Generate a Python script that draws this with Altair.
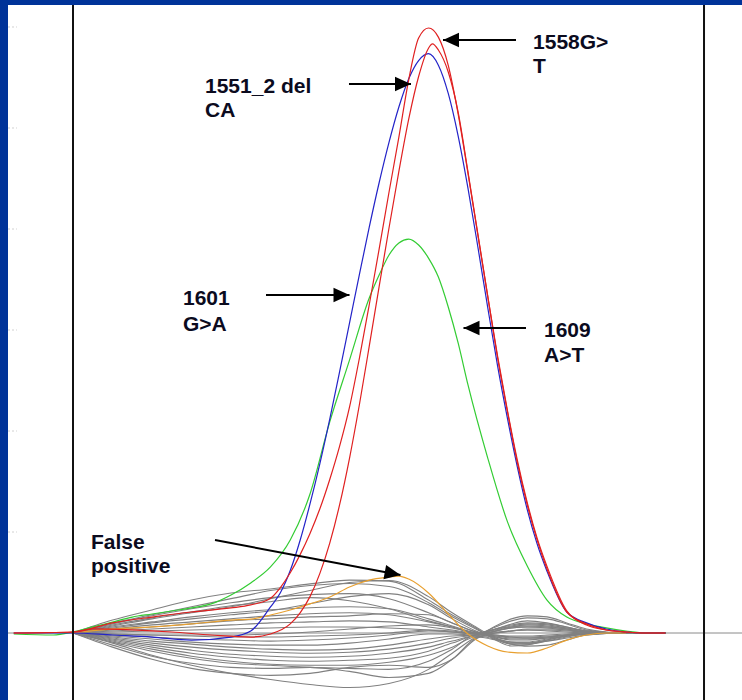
import altair as alt
import pandas as pd

# ---------------- data (temperature in degC, normalised difference signal) ----------------
T_GRAY = [76, 77, 78, 79, 80, 81, 82, 83, 84, 85, 85.6, 86.2, 86.7, 87.1, 87.5, 88, 88.5, 89, 90, 91]
GRAY_CURVES = [
    [0, 0.64, 1.14, 1.63, 1.98, 2.18, 2.43, 2.62, 2.57, 1.63, 0.89, 0.25, -0.35, -0.64, -0.59, -0.35, -0.15, -0.05, 0, 0],
    [0, 0.50, 0.90, 1.30, 1.70, 2.10, 2.35, 2.45, 2.30, 1.50, 0.80, 0.20, -0.30, -0.55, -0.55, -0.40, -0.20, -0.05, 0, 0],
    [0, 0.35, 0.70, 1.00, 1.30, 1.70, 2.10, 2.50, 2.60, 1.80, 1.00, 0.30, -0.25, -0.50, -0.50, -0.35, -0.15, -0.05, 0, 0],
    [0, 0.45, 0.85, 1.20, 1.50, 1.75, 1.90, 1.95, 1.70, 1.00, 0.50, 0.05, -0.20, -0.35, -0.35, -0.25, -0.10, 0, 0, 0],
    [0, 0.30, 0.55, 0.80, 1.00, 1.15, 1.25, 1.30, 1.20, 0.70, 0.35, 0, -0.15, -0.25, -0.25, -0.20, -0.10, 0, 0, 0],
    [0, 0.20, 0.40, 0.55, 0.70, 0.85, 0.95, 1.00, 0.90, 0.55, 0.30, 0, 0.20, 0.45, 0.60, 0.50, 0.30, 0.10, 0, 0],
    [0, 0.10, 0.20, 0.30, 0.40, 0.50, 0.55, 0.60, 0.55, 0.30, 0.15, 0, 0.15, 0.35, 0.45, 0.40, 0.25, 0.10, 0, 0],
    [0, 0.05, 0.10, 0.15, 0.20, 0.25, 0.30, 0.30, 0.25, 0.15, 0.05, -0.05, 0.10, 0.25, 0.30, 0.30, 0.20, 0.05, 0, 0],
    [0, -0.05, -0.10, -0.15, -0.20, -0.20, -0.15, -0.10, 0, 0.15, 0.10, -0.05, 0.20, 0.40, 0.50, 0.45, 0.30, 0.10, 0, 0],
    [0, -0.10, -0.20, -0.30, -0.35, -0.40, -0.35, -0.25, -0.10, 0.10, 0.05, -0.05, 0.30, 0.60, 0.75, 0.70, 0.45, 0.15, 0, 0],
    [0, -0.15, -0.30, -0.45, -0.55, -0.60, -0.60, -0.50, -0.30, -0.05, -0.05, -0.10, 0.35, 0.70, 0.85, 0.80, 0.50, 0.20, 0, 0],
    [0, -0.20, -0.40, -0.55, -0.70, -0.80, -0.85, -0.80, -0.60, -0.30, -0.15, -0.10, 0.10, 0.30, 0.40, 0.35, 0.25, 0.10, 0, 0],
    [0, -0.25, -0.50, -0.70, -0.85, -0.95, -1.00, -0.95, -0.80, -0.50, -0.25, -0.10, 0, 0.10, 0.20, 0.20, 0.15, 0.05, 0, 0],
    [0, -0.30, -0.60, -0.85, -1.05, -1.15, -1.20, -1.15, -1.00, -0.70, -0.40, -0.15, -0.15, -0.20, -0.25, -0.20, -0.10, 0, 0, 0],
    [0, -0.35, -0.70, -1.00, -1.20, -1.35, -1.40, -1.35, -1.25, -0.90, -0.50, -0.15, -0.30, -0.45, -0.50, -0.40, -0.25, -0.10, 0, 0],
    [0, -0.40, -0.80, -1.15, -1.40, -1.55, -1.60, -1.60, -1.45, -1.10, -0.70, -0.20, -0.35, -0.55, -0.65, -0.60, -0.35, -0.10, 0, 0],
    [0, -0.50, -1.10, -1.60, -2.00, -2.30, -2.55, -2.70, -2.50, -1.80, -1.00, -0.20, 0.20, 0.30, 0.35, 0.30, 0.20, 0.05, 0, 0],
    [0, -0.70, -1.30, -1.75, -2.00, -2.10, -2.00, -1.70, -1.60, -1.70, -1.30, -0.30, 0.10, 0.25, 0.30, 0.25, 0.15, 0.05, 0, 0],
    [0, -0.60, -1.15, -1.50, -1.70, -1.75, -1.70, -1.90, -2.20, -2.00, -1.30, -0.25, 0, 0.10, 0.15, 0.10, 0.05, 0, 0, 0],
    [0, -0.45, -0.90, -1.25, -1.50, -1.60, -1.70, -1.75, -1.80, -1.40, -0.80, -0.10, -0.20, -0.30, -0.30, -0.25, -0.15, -0.05, 0, 0],
    [0, 0.25, 0.50, 0.70, 0.90, 1.10, 1.45, 1.80, 1.95, 1.40, 0.70, 0.10, -0.25, -0.45, -0.45, -0.30, -0.15, 0, 0, 0],
    [0, 0.15, 0.30, 0.45, 0.60, 0.70, 0.80, 0.85, 0.95, 0.90, 0.50, 0.05, -0.10, -0.15, -0.15, -0.10, -0.05, 0, 0, 0],
    [0, 0.40, 0.75, 1.05, 1.35, 1.55, 1.75, 1.60, 1.20, 0.60, 0.30, 0, 0.05, 0.10, 0.15, 0.15, 0.10, 0.05, 0, 0],
    [0, -0.05, -0.10, -0.10, -0.10, -0.05, 0.05, 0.20, 0.35, 0.40, 0.25, 0, -0.10, -0.20, -0.20, -0.15, -0.10, 0, 0, 0],
]

T_ORANGE = [76, 77, 78, 79, 80, 80.5, 81, 81.5, 82, 82.5, 83, 83.5, 84, 84.25, 84.5, 85, 85.5, 86, 86.5, 87, 87.5, 88, 88.5, 89, 89.5, 90]
V_ORANGE = [0, 0.20, 0.30, 0.45, 0.64, 0.69, 0.89, 1.14, 1.44, 1.78, 2.28, 2.62, 2.77, 2.82, 2.67, 1.98, 0.94, -0.05, -0.64, -0.94, -0.99, -0.74, -0.35, -0.10, 0, 0]

T_GREEN = [74.5, 75.5, 76, 76.5, 77, 77.5, 78, 78.5, 79, 79.5, 80, 80.5, 81, 81.5, 82, 82.5, 83, 83.5, 83.75, 84, 84.25, 84.5, 84.75, 85, 85.25, 85.5, 85.75, 86, 86.5, 87, 87.5, 88, 88.5, 89, 89.5, 90, 90.5, 91]
V_GREEN = [-0.05, -0.10, 0.05, 0.30, 0.54, 0.79, 0.94, 1.09, 1.24, 1.44, 1.88, 2.48, 3.27, 4.60, 6.88, 10.45, 13.51, 16.58, 17.72, 18.71, 19.31, 19.50, 19.21, 18.56, 17.62, 16.14, 14.36, 12.28, 8.66, 5.50, 3.32, 1.63, 0.79, 0.45, 0.25, 0.10, 0, 0]

T_BLUE = [74.5, 76, 77, 78, 79, 80, 80.5, 81, 81.25, 81.5, 81.75, 82, 82.25, 82.5, 82.75, 83, 83.25, 83.5, 83.75, 84, 84.25, 84.5, 84.75, 85, 85.25, 85.5, 85.75, 86, 86.25, 86.5, 86.75, 87, 87.25, 87.5, 87.75, 88, 88.5, 89, 89.5, 90, 90.5, 91]
V_BLUE = [0, 0, -0.10, -0.20, -0.35, -0.20, 0.10, 1.29, 1.99, 3.09, 4.59, 6.39, 8.39, 10.59, 12.94, 15.34, 17.74, 20.09, 22.29, 24.29, 26.04, 27.44, 28.34, 28.68, 28.11, 26.71, 24.61, 22.01, 19.11, 16.11, 13.21, 10.61, 8.21, 6.11, 4.41, 3.06, 1.04, 0.50, 0.20, 0.05, 0, 0]

T_RED_B = [74.5, 76, 76.5, 77.5, 78.5, 79.5, 80.5, 81, 81.5, 81.75, 82, 82.25, 82.5, 82.75, 83, 83.25, 83.5, 83.75, 84, 84.25, 84.5, 84.75, 85, 85.1, 85.25, 85.5, 85.75, 86, 86.25, 86.5, 86.75, 87, 87.25, 87.5, 87.75, 88, 88.5, 89, 89.5, 90, 90.5, 91]
V_RED_B = [0, 0.05, 0.20, 0.15, 0.05, -0.10, -0.20, -0.05, 0.45, 1.00, 1.80, 2.95, 4.45, 6.35, 8.65, 11.30, 14.20, 17.15, 20.05, 22.85, 25.45, 27.55, 28.95, 29.16, 28.86, 27.77, 25.79, 22.82, 19.75, 16.68, 13.61, 10.94, 8.42, 6.34, 4.60, 3.17, 1.04, 0.45, 0.15, 0.05, 0, 0]

T_RED_A = [74.5, 76, 77, 78, 79, 80, 80.5, 81, 81.25, 81.5, 81.75, 82, 82.25, 82.5, 82.75, 83, 83.25, 83.5, 83.75, 84, 84.25, 84.5, 84.75, 85, 85.25, 85.5, 85.75, 86, 86.25, 86.5, 86.75, 87, 87.25, 87.5, 87.75, 88, 88.5, 89, 89.5, 90, 90.5, 91]
V_RED_A = [0, 0.05, 0.50, 0.79, 1.04, 1.24, 1.39, 1.72, 2.25, 2.98, 3.88, 4.93, 6.15, 7.60, 9.25, 11.18, 13.60, 16.25, 19.00, 21.82, 24.55, 27.40, 29.45, 29.95, 29.50, 28.10, 25.70, 22.75, 19.70, 16.65, 13.70, 11.00, 8.55, 6.45, 4.70, 3.30, 1.10, 0.40, 0.15, 0.05, 0, 0]

# annotations
LABEL_TEXT = ["1558G>", "T", "1551_2 del", "CA", "1601", "G>A", "1609", "A>T", "False", "positive"]
LABEL_T = [87.646, 87.646, 79.342, 79.342, 78.785, 78.785, 87.924, 87.924, 76.456, 76.456]
LABEL_V = [28.91, 27.72, 26.73, 25.54, 16.24, 14.95, 14.65, 13.42, 4.16, 2.97]

ARROW_T_FROM = [87.215, 82.987, 80.886, 87.468, 79.595]
ARROW_V_FROM = [29.36, 27.18, 16.73, 15.10, 4.60]
ARROW_T_TO = [85.367, 84.557, 83.000, 85.886, 84.291]
ARROW_V_TO = [29.36, 27.18, 16.73, 15.10, 2.87]
ARROW_ANGLE = [180, 0, 0, 180, 10.7]

FRAME_T = [76.0, 91.975]
TICK_V = [5, 10, 15, 20, 25, 30]

X_DOMAIN = [74.3544, 92.9367]
Y_DOMAIN = [-3.3168, 31.0891]

# ---------------- build ----------------
xs = alt.Scale(domain=X_DOMAIN, nice=False, zero=False)
ys = alt.Scale(domain=Y_DOMAIN, nice=False, zero=False)
X = lambda f: alt.X(f, type="quantitative", scale=xs, axis=None)
Y = lambda f: alt.Y(f, type="quantitative", scale=ys, axis=None)

gray_rows = []
for i, curve in enumerate(GRAY_CURVES):
    for t, v in zip(T_GRAY, curve):
        gray_rows.append({"T": t, "v": v, "s": f"g{i}"})
gray_df = pd.DataFrame(gray_rows)


def series(ts, vs):
    return pd.DataFrame({"T": ts, "v": vs})


gray = alt.Chart(gray_df).mark_line(color="#808080", strokeWidth=1.1, interpolate="monotone").encode(
    x=X("T"), y=Y("v"), detail="s:N")


def colored(ts, vs, color):
    return alt.Chart(series(ts, vs)).mark_line(color=color, strokeWidth=1.2, interpolate="monotone").encode(
        x=X("T"), y=Y("v"))


orange = colored(T_ORANGE, V_ORANGE, "#e8a030")
green = colored(T_GREEN, V_GREEN, "#33cc33")
blue = colored(T_BLUE, V_BLUE, "#2323c8")
red_b = colored(T_RED_B, V_RED_B, "#e02020")
red_a = colored(T_RED_A, V_RED_A, "#e02020")

baseline = alt.Chart(pd.DataFrame({"v": [0]})).mark_rule(color="#8a8a8a", strokeWidth=1).encode(y=Y("v"))
frame = alt.Chart(pd.DataFrame({"T": FRAME_T})).mark_rule(color="#111111", strokeWidth=2).encode(x=X("T"))
ticks = alt.Chart(pd.DataFrame({"v": TICK_V, "x0": [X_DOMAIN[0]] * len(TICK_V),
                                "x1": [74.58] * len(TICK_V)})).mark_rule(
    color="#d0d0d0", strokeWidth=1, strokeDash=[2, 2]).encode(x=X("x0"), x2="x1", y=Y("v"))

arrow_df = pd.DataFrame({"t0": ARROW_T_FROM, "v0": ARROW_V_FROM, "t1": ARROW_T_TO,
                         "v1": ARROW_V_TO, "ang": ARROW_ANGLE})
shafts = alt.Chart(arrow_df).mark_rule(color="black", strokeWidth=2).encode(
    x=X("t0"), y=Y("v0"), x2="t1", y2="v1")
heads = alt.Chart(arrow_df).mark_point(shape="M0,0L-1,-0.45L-1,0.45Z", filled=True, size=1024,
                                       color="black", opacity=1, strokeWidth=0).encode(
    x=X("t1"), y=Y("v1"), angle=alt.Angle("ang:Q", scale=None))

labels = alt.Chart(pd.DataFrame({"T": LABEL_T, "v": LABEL_V, "txt": LABEL_TEXT})).mark_text(
    align="left", baseline="alphabetic", font="Liberation Sans", fontWeight="bold",
    fontSize=21, color="#0b0b1e").encode(x=X("T"), y=Y("v"), text="txt:N")

chart = alt.layer(baseline, ticks, gray, orange, green, blue, red_b, red_a, frame,
                  shafts, heads, labels).properties(
    width=734, height=695,
    background="#003399",
    padding={"left": 8, "top": 5, "right": 0, "bottom": 0},
    autosize=alt.AutoSizeParams(type="none"),
).configure_view(fill="white", strokeWidth=0)

chart.save("out.html", embed_options={"renderer": "svg", "actions": False})
